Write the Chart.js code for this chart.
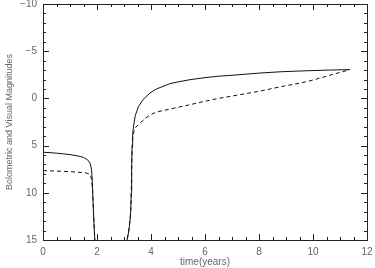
<!DOCTYPE html>
<html>
<head>
<meta charset="utf-8">
<script src="https://cdn.jsdelivr.net/npm/chart.js@4"></script>
<style>
  html, body { margin: 0; padding: 0; background: #fff; }
  #wrap { width: 375px; height: 268px; }
</style>
</head>
<body>
<div id="wrap"><canvas id="magChart" width="375" height="268"></canvas></div>
<script>
// bolometric magnitude (solid)
const bolTime = [0, 0.5, 1.0, 1.3, 1.5, 1.65, 1.75, 1.8, 1.83, 1.86, 1.9, 1.93, 1.96,
    3.05, 3.1, 3.18, 3.24, 3.27, 3.285, 3.3, 3.32, 3.36, 3.42, 3.53, 3.7, 3.96, 4.2, 4.7,
    5.0, 5.44, 6.0, 6.5, 7.0, 8.0, 8.8, 9.5, 10.0, 10.6, 11.37];
const bolMag = [5.7, 5.8, 5.95, 6.1, 6.25, 6.5, 6.9, 7.6, 9.0, 11.5, 14, 15.5, 17,
    17, 15.2, 14, 12.5, 10, 7, 5, 3.8, 2.8, 1.8, 0.9, 0.14, -0.57, -1.0, -1.56,
    -1.75, -1.98, -2.2, -2.35, -2.45, -2.68, -2.82, -2.9, -2.95, -3.0, -3.05];

// visual magnitude (dashed)
const visTime = [0, 0.5, 1.0, 1.4, 1.6, 1.75, 1.8, 1.84, 1.87, 1.91, 1.95,
    3.05, 3.12, 3.2, 3.26, 3.28, 3.3, 3.32, 3.36, 3.42, 3.6, 3.8, 3.96, 4.2, 4.7,
    5.44, 6.0, 6.5, 7.0, 7.5, 8.0, 8.5, 9.0, 9.5, 10.0, 10.5, 11.0, 11.37];
const visMag = [7.65, 7.7, 7.75, 7.85, 7.9, 8.05, 8.6, 10, 12, 14.5, 17,
    17, 15, 13.5, 11.5, 8, 5.5, 4.3, 3.6, 3.1, 2.6, 2.1, 1.75, 1.45, 1.13,
    0.67, 0.3, 0.0, -0.25, -0.5, -0.75, -1.05, -1.35, -1.6, -1.95, -2.35, -2.75, -3.05];

const xTicks = [0, 2, 4, 6, 8, 10, 12];
const yTicks = [-10, -5, 0, 5, 10, 15];

function pairs(xs, ys) {
    return xs.map((x, i) => ({ x: x, y: ys[i] }));
}

const textColor = "#666";
const font = { family: "'Liberation Sans', Arial, sans-serif", size: 10 };

// IDL-style box with inward ticks on all sides
const boxTicks = {
    id: "boxTicks",
    afterDraw(chart) {
        const ctx = chart.ctx;
        const a = chart.chartArea;
        const xs = chart.scales.x, ys = chart.scales.y;
        ctx.save();
        ctx.strokeStyle = "#222";
        ctx.lineWidth = 1;
        ctx.strokeRect(Math.round(a.left) + 0.5, Math.round(a.top) + 0.5,
            Math.round(a.right - a.left), Math.round(a.bottom - a.top));
        ctx.beginPath();
        for (let v = xs.min; v <= xs.max + 1e-9; v += 0.5) {
            const len = xTicks.includes(v) ? 6 : 3;
            const px = Math.round(xs.getPixelForValue(v)) + 0.5;
            ctx.moveTo(px, a.bottom); ctx.lineTo(px, a.bottom - len);
            ctx.moveTo(px, a.top); ctx.lineTo(px, a.top + len);
        }
        for (let v = -10; v <= 15; v += 1) {
            const len = yTicks.includes(v) ? 6 : 3;
            const py = Math.round(ys.getPixelForValue(v)) + 0.5;
            ctx.moveTo(a.left, py); ctx.lineTo(a.left + len, py);
            ctx.moveTo(a.right, py); ctx.lineTo(a.right - len, py);
        }
        ctx.stroke();
        ctx.restore();
    }
};

const ctx = document.getElementById("magChart").getContext("2d");
new Chart(ctx, {
    type: "line",
    data: {
        datasets: [
            {
                label: "Bolometric",
                data: pairs(bolTime, bolMag),
                borderColor: "#111",
                borderWidth: 1,
                pointRadius: 0,
                fill: false,
                clip: 0
            },
            {
                label: "Visual",
                data: pairs(visTime, visMag),
                borderColor: "#111",
                borderWidth: 1,
                borderDash: [4, 3],
                pointRadius: 0,
                fill: false,
                clip: 0
            }
        ]
    },
    options: {
        responsive: false,
        animation: false,
        layout: { padding: { top: 4, right: 8, left: 0, bottom: 0 } },
        plugins: { legend: { display: false }, tooltip: { enabled: false } },
        scales: {
            x: {
                type: "linear",
                min: 0,
                max: 12,
                afterBuildTicks: (s) => { s.ticks = xTicks.map(v => ({ value: v })); },
                afterFit: (s) => { s.height = 28; s.paddingLeft = 0; s.paddingRight = 0; },
                grid: { display: false, drawTicks: false },
                border: { display: false },
                ticks: { color: textColor, font: font, padding: 6, maxRotation: 0 },
                title: { display: true, text: "time(years)", color: textColor, font: font, padding: { top: 0, bottom: 0 } }
            },
            y: {
                type: "linear",
                reverse: true,
                min: -10,
                max: 15,
                afterBuildTicks: (s) => { s.ticks = yTicks.map(v => ({ value: v })); },
                afterFit: (s) => { s.width = 43; s.paddingTop = 0; s.paddingBottom = 0; },
                grid: { display: false, drawTicks: false },
                border: { display: false },
                ticks: {
                    color: textColor, font: font, padding: 6,
                    callback: (v) => (v < 0 ? "\u2212" + Math.abs(v) : String(v))
                },
                title: {
                    display: true, text: "Bolometric and Visual Magnitudes", color: textColor,
                    font: { family: font.family, size: 9 }, padding: { top: 4, bottom: 0 }
                }
            }
        }
    },
    plugins: [boxTicks]
});
</script>
</body>
</html>
